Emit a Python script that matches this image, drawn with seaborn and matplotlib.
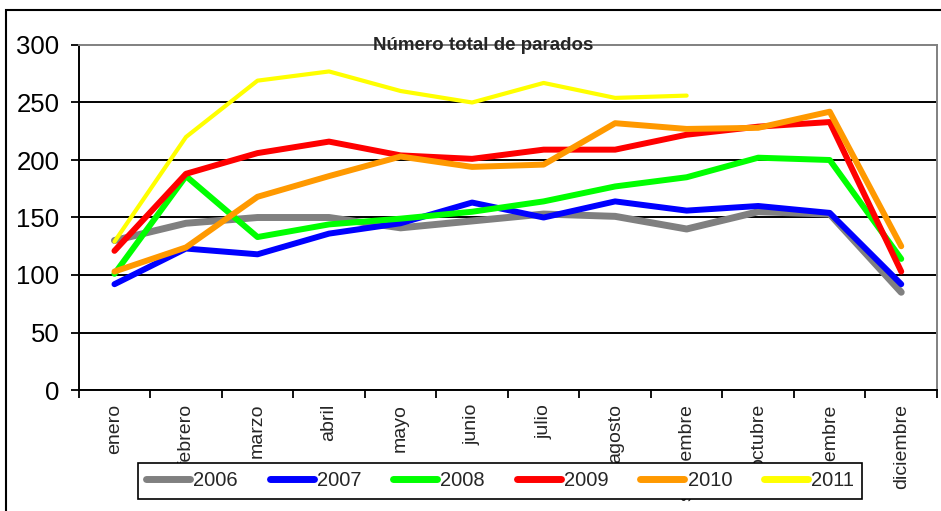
import numpy as np
import seaborn as sns
from matplotlib import pyplot as plt
from matplotlib.patches import Rectangle

# Datos
meses = ['enero', 'febrero', 'marzo', 'abril', 'mayo', 'junio', 'julio',
         'agosto', 'septiembre', 'octubre', 'noviembre', 'diciembre']
anios = ['2006', '2007', '2008', '2009', '2010', '2011']
p2006 = [130, 145, 150, 150, 141, 147, 153, 151, 140, 155, 153, 85]
p2007 = [92, 123, 118, 136, 145, 163, 150, 164, 156, 160, 154, 92]
p2008 = [101, 186, 133, 144, 149, 155, 164, 177, 185, 202, 200, 114]
p2009 = [121, 188, 206, 216, 204, 201, 209, 209, 222, 229, 233, 103]
p2010 = [103, 124, 168, 186, 203, 194, 196, 232, 227, 228, 242, 125]
p2011 = [129, 220, 269, 277, 260, 250, 267, 254, 256, np.nan, np.nan, np.nan]
colores = ['#808080', '#0000ff', '#00ff00', '#ff0000', '#ff9900', '#ffff00']
grosores = [5, 4.3, 4.3, 4.3, 4.3, 3]

sns.set_style('white')
plt.rcParams['font.family'] = ['Liberation Sans', 'DejaVu Sans']

fig = plt.figure(figsize=(9.41, 5.11), dpi=100)
ax = fig.add_axes([78.7 / 941, 1 - 390 / 511, (937 - 78.7) / 941, (390 - 45) / 511])

series = [p2006, p2007, p2008, p2009, p2010, p2011]
for anio, vals, col, lw in zip(anios, series, colores, grosores):
    sns.lineplot(x=meses, y=vals, color=col, linewidth=lw, label=anio,
                 ax=ax, solid_capstyle='round')

ax.set_xlim(-0.5, 11.5)
ax.set_ylim(0, 300)
ax.set_yticks(np.arange(0, 301, 50))
ax.set_xticks(np.arange(-0.5, 12, 1))
ax.set_xticklabels([])
ax.set_xticks(np.arange(12), meses, minor=True)
ax.set_xlabel('')
ax.set_ylabel('')

ax.set_axisbelow(True)
ax.yaxis.grid(True, color='black', linewidth=1.4)
ax.get_ygridlines()[-1].set_visible(False)

ax.tick_params(axis='y', length=6, width=1.3, pad=8, labelsize=18.5, colors='black', left=True)
ax.tick_params(axis='x', which='major', length=6, width=1.3, bottom=True, colors='black')
ax.tick_params(axis='x', which='minor', length=0, pad=10, labelsize=14, labelrotation=90)

for s in ['left', 'bottom']:
    ax.spines[s].set_color('black')
    ax.spines[s].set_linewidth(1.4)
for s in ['top', 'right']:
    ax.spines[s].set_color('#808080')
    ax.spines[s].set_linewidth(1.4)

fig.text(483 / 941, 1 - 50 / 511, 'Número total de parados', ha='center',
         va='baseline', fontsize=13.5, fontweight='bold')

leg = ax.legend(loc='center', ncol=6, mode='expand',
                bbox_to_anchor=(138 / 941, 1 - 502 / 511, 724 / 941, 42 / 511),
                bbox_transform=fig.transFigure, frameon=True, fancybox=False,
                framealpha=1, edgecolor='black', handlelength=2.2,
                handletextpad=0.15, borderaxespad=0, prop={'size': 14.5})
leg.get_frame().set_linewidth(1.2)
for h in leg.get_lines():
    h.set_linewidth(5)

fig.add_artist(Rectangle((6 / 941, -0.1), 1.2, 1 - 10 / 511 + 0.1,
                         transform=fig.transFigure, fill=False,
                         edgecolor='black', linewidth=1.5))

fig.savefig('out.png', dpi=100)
